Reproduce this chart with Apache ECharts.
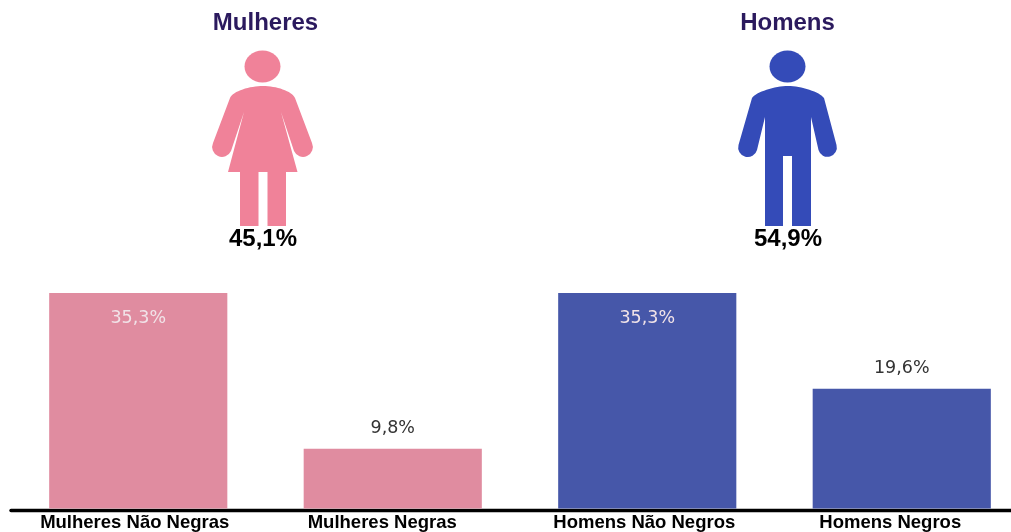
<!DOCTYPE html>
<html>
<head>
<meta charset="utf-8">
<style>
  html, body { margin: 0; padding: 0; background: #fff; }
  #chart { width: 1011px; height: 532px; }
</style>
<script src="https://cdn.jsdelivr.net/npm/echarts@6/dist/echarts.min.js"></script>
</head>
<body>
<div id="chart"></div>
<script>
const categories = ["Mulheres Não Negras", "Mulheres Negras", "Homens Não Negros", "Homens Negros"];
const shares = [35.3, 9.8, 35.3, 19.6];
const groupNames = ["Mulheres", "Homens"];
const groupShares = ["45,1%", "54,9%"];

const pink = "#e08ca0";
const blue = "#4657a9";
const barColors = [pink, pink, blue, blue];
// o rotulo do eixo nao fica centrado na barra no original
const labelShift = [7, 21, 6, 23];

const womanPath = "M230 98C233 91 250 86 263 86C276 86 292 91 295 98L312 143A9.3 9.3 0 0 1 294 151L281 112L297.5 172H286V226H267.5V172H258.5V226H240V172H228L244 112L231 151A9.3 9.3 0 0 1 213 143Z";
const manPath = "M752 98C756 92 775 86 788 86C801 86 820 92 824 98L836.5 145A9.3 9.3 0 0 1 818.5 150L811 117V226H792V156H783V226H765V117L757 150A9.3 9.3 0 0 1 738.5 145Z";

echarts.graphic.registerShape("womanBody", echarts.graphic.extendPath(womanPath, {}));
echarts.graphic.registerShape("manBody", echarts.graphic.extendPath(manPath, {}));

function figure(shape, color, cx) {
  return [
    { type: shape, style: { fill: color } },
    { type: "ellipse", shape: { cx: cx, cy: 66.5, rx: 18, ry: 16 }, style: { fill: color } }
  ];
}

function heading(text, x, y, size, color) {
  return {
    type: "text", x: x, y: y,
    style: {
      text: text, fill: color, align: "center", verticalAlign: "middle",
      font: "bold " + size + "px 'Liberation Sans', Arial, sans-serif"
    }
  };
}

const option = {
  animation: false,
  backgroundColor: "#fff",
  grid: { left: 11, width: 1018, top: 293, height: 215.5, outerBoundsMode: "none" },
  xAxis: {
    type: "category",
    offset: 1.5,
    data: categories.map((name, i) => ({
      value: name,
      textStyle: { padding: [0, labelShift[i], 0, 0] }
    })),
    axisLine: { onZero: false, lineStyle: { color: "#000", width: 3.4 } },
    axisTick: { show: false },
    axisLabel: {
      color: "#000", fontSize: 18.5, fontWeight: "bold", margin: 3, interval: 0,
      fontFamily: "'Liberation Sans', Arial, sans-serif"
    }
  },
  yAxis: { type: "value", min: 0, max: 35.3, show: false },
  series: [{
    type: "bar",
    barCategoryGap: "30%",
    data: shares.map((v, i) => ({
      value: v,
      itemStyle: { color: barColors[i] },
      label: v > 30
        ? { position: "insideTop", distance: 16, color: "#f1e3e8" }
        : { position: "top", distance: 11, color: "#333" }
    })),
    label: {
      show: true,
      fontSize: 17.5,
      fontFamily: "'DejaVu Sans', sans-serif",
      formatter: p => p.value.toFixed(1).replace(".", ",") + "%"
    }
  }],
  graphic: [
    heading(groupNames[0], 265.5, 23, 24, "#2b1a5e"),
    heading(groupNames[1], 787.5, 23, 24, "#2b1a5e"),
    ...figure("womanBody", "#f08299", 262.5),
    ...figure("manBody", "#344bb8", 787.5),
    heading(groupShares[0], 263, 239.5, 24, "#000"),
    heading(groupShares[1], 788, 239.5, 24, "#000")
  ]
};

echarts.init(document.getElementById("chart")).setOption(option);
</script>
</body>
</html>
